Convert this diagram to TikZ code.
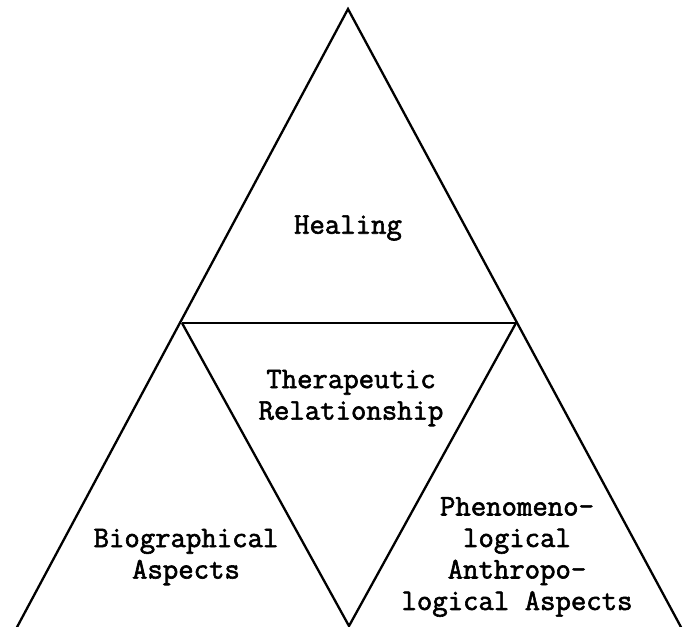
\documentclass[tikz,border=0pt]{standalone}
\usepackage{fontspec}
\newfontfamily\labelfont[FakeBold=2]{Latin Modern Mono}
\begin{document}
\begin{tikzpicture}[x=1pt,y=-1pt,
    edge/.style={line width=2.3pt, line join=miter},
    lbl/.style={inner sep=0pt, align=center, font=\labelfont\fontsize{29.9}{31.5}\selectfont}]
  \useasboundingbox (0,0) rectangle (690,626);
  % corners of the large triangle and the inner split
  \coordinate (apex) at (348,9);
  \coordinate (left) at (182,323);
  \coordinate (right) at (516,323);
  \coordinate (bl) at (16,629);
  \coordinate (br) at (682,629);
  \coordinate (bm) at (349,626);
  % outline
  \draw[edge] (bl) -- (apex) -- (br);
  \draw[edge] (left) -- (right);
  \draw[edge] (left) -- (bm) -- (right);
  % labels
  \node[lbl] (heal) at (348,228) {Healing};
  \node[lbl] (ther) at (351,398) {Therapeutic\\Relationship};
  \node[lbl] (bio) at (186,557) {Biographical\\Aspects};
  \node[lbl] (phen) at (517,557) {Phenomeno-\\logical\\Anthropo-\\logical Aspects};
\end{tikzpicture}
\end{document}
